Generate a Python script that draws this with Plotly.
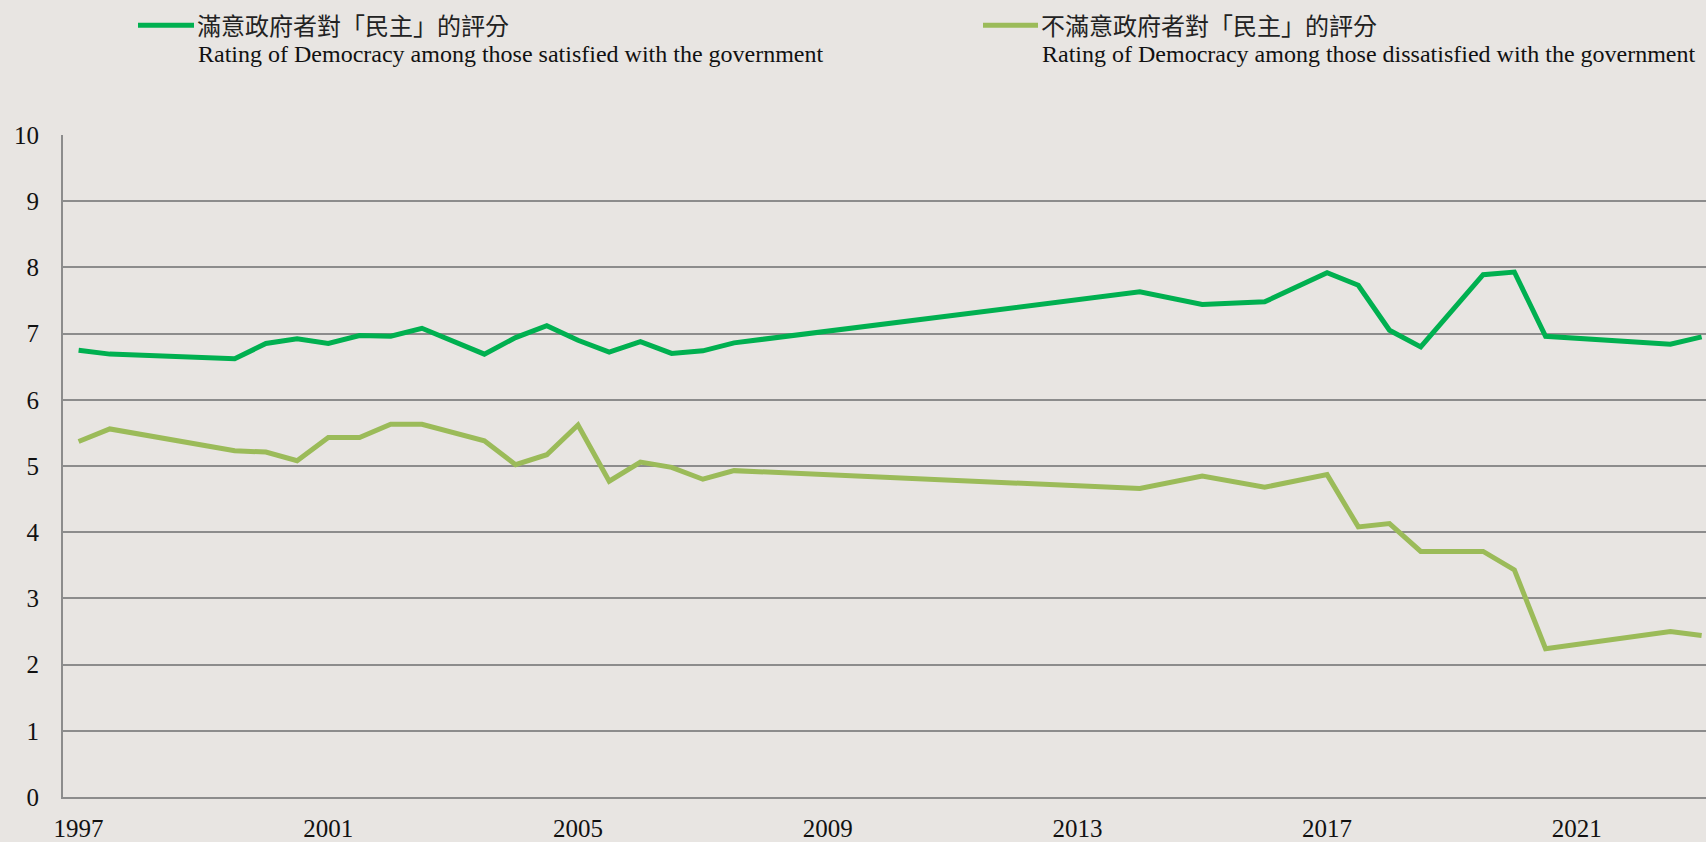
import plotly.graph_objects as go

# survey periods (half-year slots)
periods = [
    1997.0, 1997.5, 1999.5, 2000.0, 2000.5, 2001.0, 2001.5, 2002.0, 2002.5,
    2003.0, 2003.5, 2004.0, 2004.5, 2005.0, 2005.5, 2006.0, 2006.5, 2007.0,
    2007.5, 2014.0, 2015.0, 2016.0, 2017.0, 2017.5, 2018.0, 2018.5, 2019.5,
    2020.0, 2020.5, 2022.5, 2023.0,
]

satisfied = [
    6.75, 6.69, 6.62, 6.85, 6.92, 6.85, 6.97, 6.96, 7.08, 6.89, 6.69, 6.94,
    7.12, 6.90, 6.72, 6.88, 6.70, 6.74, 6.86, 7.63, 7.44, 7.48, 7.92, 7.73,
    7.05, 6.80, 7.89, 7.93, 6.96, 6.84, 6.95,
]

dissatisfied = [
    5.37, 5.56, 5.23, 5.21, 5.08, 5.43, 5.43, 5.63, 5.63, 5.50, 5.38, 5.02,
    5.17, 5.62, 4.77, 5.06, 4.98, 4.80, 4.93, 4.66, 4.85, 4.68, 4.87, 4.08,
    4.13, 3.71, 3.71, 3.43, 2.24, 2.50, 2.44,
]

tick_years = [1997, 2001, 2005, 2009, 2013, 2017, 2021]

names_zh = ["滿意政府者對「民主」的評分", "不滿意政府者對「民主」的評分"]
names_en = [
    "Rating of Democracy among those satisfied with the government",
    "Rating of Democracy among those dissatisfied with the government",
]

GREEN = "#00B050"
OLIVE = "#9BBB59"
BG = "#E8E5E2"
GRID = "#8C8C8C"

W, H = 1706, 842
PL, PR, PT, PB = 63, 1706, 135, 799


def px(x):
    return (x - PL) / (PR - PL)


def py(y):
    return (PB - y) / (PB - PT)


fig = go.Figure()
fig.add_trace(go.Scatter(x=periods, y=satisfied, mode="lines",
                         line=dict(color=GREEN, width=5), name=names_zh[0]))
fig.add_trace(go.Scatter(x=periods, y=dissatisfied, mode="lines",
                         line=dict(color=OLIVE, width=5), name=names_zh[1]))

# hand-made legend at the top
legend_items = [(138, 194, GREEN, 0), (983, 1038, OLIVE, 1)]
shapes = []
annotations = []
for x0, x1, col, i in legend_items:
    shapes.append(dict(type="line", xref="paper", yref="paper",
                       x0=px(x0), x1=px(x1), y0=py(25), y1=py(25),
                       line=dict(color=col, width=5)))
    annotations.append(dict(xref="paper", yref="paper", x=px(x1 + 1), y=py(24),
                            xanchor="left", yanchor="middle", showarrow=False,
                            text=names_zh[i],
                            font=dict(family="Noto Sans CJK TC", size=24, color="#222")))
    annotations.append(dict(xref="paper", yref="paper", x=px(x1 + 2), y=py(54),
                            xanchor="left", yanchor="middle", showarrow=False,
                            text=names_en[i],
                            font=dict(family="Liberation Serif", size=24, color="#111")))

fig.update_layout(
    width=W, height=H,
    margin=dict(l=PL, r=W - PR, t=PT, b=H - PB),
    paper_bgcolor=BG, plot_bgcolor=BG,
    showlegend=False,
    shapes=shapes,
    annotations=annotations,
    font=dict(family="Liberation Serif", size=25, color="#111"),
)
fig.update_xaxes(
    range=[1996.75, 2023.07], tickvals=tick_years, ticktext=[str(y) for y in tick_years],
    showgrid=False, zeroline=False, showline=True, linecolor=GRID, linewidth=2,
    ticks="", ticklabelstandoff=8,
)
fig.update_yaxes(
    range=[0, 10], dtick=1, showgrid=True, gridcolor=GRID, gridwidth=1.5,
    zeroline=False, showline=True, linecolor=GRID, linewidth=2,
    ticks="", ticklabelstandoff=17,
)

fig.write_html("out.html", config={"displayModeBar": False},
               post_script="document.body.style.margin='0';")
